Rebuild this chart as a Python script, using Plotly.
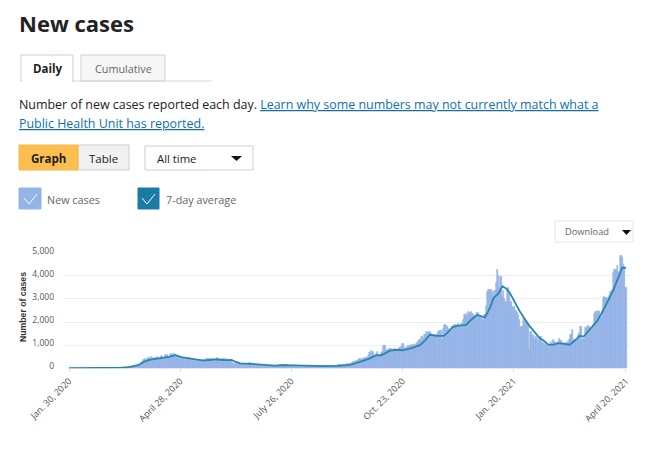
import pandas as pd
import plotly.graph_objects as go

# daily new cases, one row = 14 days, first day Jan 30 2020
new_cases = [
    1, 0, 0, 1, 0, 0, 0, 1, 0, 0, 0, 0, 1, 0,
    0, 0, 0, 0, 0, 0, 1, 2, 1, 0, 1, 2, 3, 2,
    3, 5, 3, 4, 8, 6, 7, 9, 6, 12, 10, 14, 16, 20,
    25, 28, 32, 27, 38, 45, 50, 60, 75, 85, 78, 100, 120, 130,
    170, 210, 260, 300, 380, 430, 340, 420, 470, 380, 510, 440, 420, 480,
    460, 500, 430, 480, 550, 520, 460, 580, 540, 600, 510, 590, 620, 560,
    640, 600, 610, 520, 470, 500, 460, 430, 470, 440, 410, 390, 450, 430,
    400, 380, 340, 370, 350, 310, 330, 360, 320, 340, 390, 360, 400, 420,
    410, 390, 430, 380, 350, 340, 390, 440, 370, 330, 360, 410, 430, 350,
    420, 380, 340, 290, 280, 240, 220, 200, 210, 190, 200, 190, 210, 200,
    195, 180, 190, 170, 200, 260, 180, 175, 180, 160, 170, 150, 150, 140,
    140, 130, 130, 125, 120, 115, 130, 120, 110, 115, 105, 110, 100, 130,
    130, 150, 170, 160, 165, 150, 140, 155, 130, 120, 125, 115, 100, 105,
    95, 90, 85, 90, 85, 80, 75, 85, 90, 80, 75, 70, 85, 80,
    85, 100, 110, 105, 95, 90, 100, 110, 105, 95, 90, 105, 110, 100,
    110, 130, 120, 115, 130, 125, 140, 150, 135, 140, 170, 160, 175, 200,
    190, 210, 220, 250, 300, 280, 340, 320, 360, 420, 380, 410, 400, 480,
    450, 460, 550, 660, 740, 630, 720, 560, 640, 720, 600, 590, 680, 700,
    960, 980, 770, 790, 810, 830, 850, 800, 820, 840, 790, 780, 850, 880,
    950, 1080, 1050, 880, 850, 920, 980, 970, 1000, 960, 1030, 1010, 1050, 1120,
    1200, 1250, 1380, 1350, 1300, 1450, 1580, 1560, 1550, 1580, 1500, 1400, 1460, 1450,
    1400, 1480, 1600, 1620, 1620, 1250, 1700, 1870, 1850, 1820, 1700, 1600, 1650, 1750,
    1850, 1880, 1850, 1900, 1920, 1850, 1950, 1800, 2100, 2300, 2350, 2250, 2450, 2400,
    2430, 2380, 2300, 2280, 2350, 2420, 2420, 2250, 2200, 2150, 2050, 2300, 2700, 3300,
    3380, 3400, 3380, 3300, 3150, 3350, 3700, 4280, 4000, 3500, 3980, 3100, 3350, 3000,
    2900, 3450, 3480, 3300, 2900, 2650, 2640, 2650, 2500, 2400, 2300, 2100, 1800, 1820,
    2150, 2050, 2000, 1950, 1900, 800, 1600, 1400, 1450, 1250, 1380, 1300, 1150, 1300,
    1350, 1100, 1100, 1050, 1000, 980, 950, 900, 1100, 1150, 1250, 1150, 1100, 1100,
    1150, 1300, 1200, 1100, 1050, 1000, 1100, 1050, 1200, 1250, 1450, 1670, 1200, 1250,
    1250, 1300, 1450, 1550, 1780, 1250, 1300, 1300, 1750, 1820, 1840, 1800, 1650, 1700,
    1900, 2380, 2460, 2430, 2470, 2450, 2200, 2500, 3050, 3100, 3050, 3000, 3050, 3150,
    3300, 3400, 4150, 4280, 4250, 4450, 4200, 3950, 4850, 4800, 4500, 4400, 3470,
]

# 7-day average read at these days since Jan 30 2020
avg_days = [0, 20, 35, 42, 48, 52, 56, 60, 64, 68, 74, 80, 85, 90, 96, 102, 108, 114, 118, 124,
            130, 133, 137, 145, 155, 165, 172, 178, 186, 195, 205, 215, 225, 233, 241, 246, 250,
            257, 262, 267, 275, 281, 285, 289, 294, 300, 303, 307, 312, 318, 322, 327, 333, 337,
            340, 344, 347, 350, 353, 361, 369, 377, 380, 384, 388, 392, 398, 401, 405, 409, 412,
            417, 423, 428, 436, 440, 443, 446]
avg_values = [2, 2, 8, 25, 50, 90, 150, 280, 360, 400, 440, 490, 570, 480, 430, 370, 330, 370, 390, 350,
              360, 290, 210, 195, 150, 120, 140, 130, 100, 85, 95, 105, 150, 280, 430, 570, 560,
              760, 800, 780, 880, 1000, 1200, 1450, 1400, 1400, 1530, 1780, 1850, 1880, 2100, 2310, 2200, 2600,
              3040, 3250, 3550, 3450, 3260, 2460, 1810, 1300, 1200, 1010, 1020, 1090, 1060, 1020, 1200, 1400, 1370,
              1670, 2050, 2530, 3400, 3950, 4350, 4340]

tick_dates = ["2020-01-30", "2020-04-28", "2020-07-26", "2020-10-23", "2021-01-20", "2021-04-20"]
tick_labels = ["Jan. 30, 2020", "April 28, 2020", "July 26, 2020", "Oct. 23, 2020", "Jan. 20, 2021", "April 20, 2021"]

W = 660
H = 453
BAR = "#94b4e8"
TEAL = "#2b86a8"
GREY = "#666666"
DARK = "#222222"
LINK = "#0f6fae"
BORDER = "#cfcfcf"
FONT = "Open Sans"

start = pd.Timestamp("2020-01-30")
dates = pd.date_range(start, periods=len(new_cases))
avg_dates = [start + pd.Timedelta(days=d) for d in avg_days]


# page furniture is placed in pixels, from the top left like the screenshot
def px(x):
    return x / W


def py(y):
    return 1 - y / H


def box(x0, y0, x1, y1, fill, line=BORDER, width=1):
    return dict(type="rect", xref="paper", yref="paper", x0=px(x0), x1=px(x1), y0=py(y0), y1=py(y1),
                fillcolor=fill, line=dict(color=line, width=width), layer="below")


def seg(x0, y0, x1, y1, color, width=1):
    return dict(type="line", xref="paper", yref="paper", x0=px(x0), x1=px(x1), y0=py(y0), y1=py(y1),
                line=dict(color=color, width=width))


def tri(x0, x1, y0, y1):
    path = f"M {px(x0)} {py(y0)} L {px(x1)} {py(y0)} L {px((x0 + x1) / 2)} {py(y1)} Z"
    return dict(type="path", xref="paper", yref="paper", path=path, fillcolor="#111111", line=dict(width=0))


# annotations carry about 2px of padding, so left aligned text starts 2px early here
def label(x, y, text, size, color=DARK, anchor="left", family=FONT):
    if anchor == "left":
        x = x - 2
    return dict(xref="paper", yref="paper", x=px(x), y=py(y), text=text, showarrow=False, xanchor=anchor,
                yanchor="middle", font=dict(family=family, size=size, color=color), align="left")


fig = go.Figure()
fig.add_trace(go.Bar(x=dates, y=new_cases, marker=dict(color=BAR, line=dict(color=BAR, width=0.6)), name="New cases"))
fig.add_trace(go.Scatter(x=avg_dates, y=avg_values, mode="lines", line=dict(color=TEAL, width=1.8),
                         name="7-day average"))

shapes = [
    # tabs
    seg(21, 81, 212, 81, "#d5d5d5", 1.2),
    box(81, 55, 165, 81, "#f6f6f6"),
    box(21, 55, 73, 81, "#ffffff"),
    seg(22, 81, 72, 81, "#ffffff", 2),
    # graph / table switch and period select
    box(78, 145, 129, 170, "#f1f1f1"),
    box(19, 145, 78, 170, "#fdbe50", "#f4b84c"),
    box(145, 146, 253, 170, "#ffffff"),
    tri(231, 242, 156, 161),
    # legend check boxes
    box(19, 188, 41, 209, BAR, BAR),
    seg(24, 198, 29, 204, "#ffffff"),
    seg(29, 204, 37, 194, "#ffffff"),
    box(138, 188, 159, 209, "#1c7ba6", "#1c7ba6"),
    seg(142, 198, 147, 204, "#ffffff"),
    seg(147, 204, 155, 194, "#ffffff"),
    # download button
    box(555, 221, 633, 242, "#ffffff", "#e6e6e6"),
    tri(622, 631, 230, 235),
]

annotations = [
    label(19, 23, "<b>New cases</b>", 22),
    label(47, 68, "<b>Daily</b>", 11.5, anchor="center"),
    label(123, 68, "Cumulative", 10.8, GREY, anchor="center"),
    label(19, 104, "Number of new cases reported each day. "
          f"<span style='color:{LINK}'><u>Learn why some numbers may not currently match what a</u></span>", 12.45),
    label(19, 123, f"<span style='color:{LINK}'><u>Public Health Unit has reported.</u></span>", 12.45),
    label(48, 158, "<b>Graph</b>", 11.5, anchor="center"),
    label(103, 158, "Table", 11.5, anchor="center"),
    label(157, 158, "All time", 11.3),
    label(47, 199, "New cases", 10.8, GREY),
    label(166, 199, "7-day average", 10.8, GREY),
    label(565, 232, "Download", 9.3, GREY),
    dict(xref="paper", yref="paper", x=px(23), y=py(307), text="<b>Number of cases</b>", showarrow=False,
         xanchor="center", yanchor="middle", textangle=-90,
         font=dict(family="Liberation Sans", size=8.7, color="#333333")),
]

fig.update_layout(
    width=W,
    height=H,
    margin=dict(l=0, r=0, t=0, b=0, autoexpand=False),
    paper_bgcolor="white",
    plot_bgcolor="white",
    showlegend=False,
    bargap=0,
    shapes=shapes,
    annotations=annotations,
    xaxis=dict(domain=[px(63), px(630)], range=["2020-01-25 04:00", "2021-04-23 05:00"], type="date",
               automargin=False, tickmode="array", tickvals=tick_dates, ticktext=tick_labels, tickangle=-45,
               ticks="outside", ticklen=3, tickcolor="#dddddd", showgrid=False, showline=False,
               zeroline=False, tickfont=dict(family=FONT, size=9, color="#555555")),
    yaxis=dict(domain=[py(368.3), py(252.7)], range=[0, 5000], tickvals=[0, 1000, 2000, 3000, 4000, 5000],
               automargin=False, tickformat=",d", gridcolor="#eeeeee", gridwidth=1, zeroline=False, showline=False,
               ticklabelstandoff=8, ticklabelshift=-2, tickfont=dict(family=FONT, size=8.5, color="#555555")),
)

fig.write_html("out.html", config=dict(displayModeBar=False),
               post_script="document.body.style.margin='0';")
